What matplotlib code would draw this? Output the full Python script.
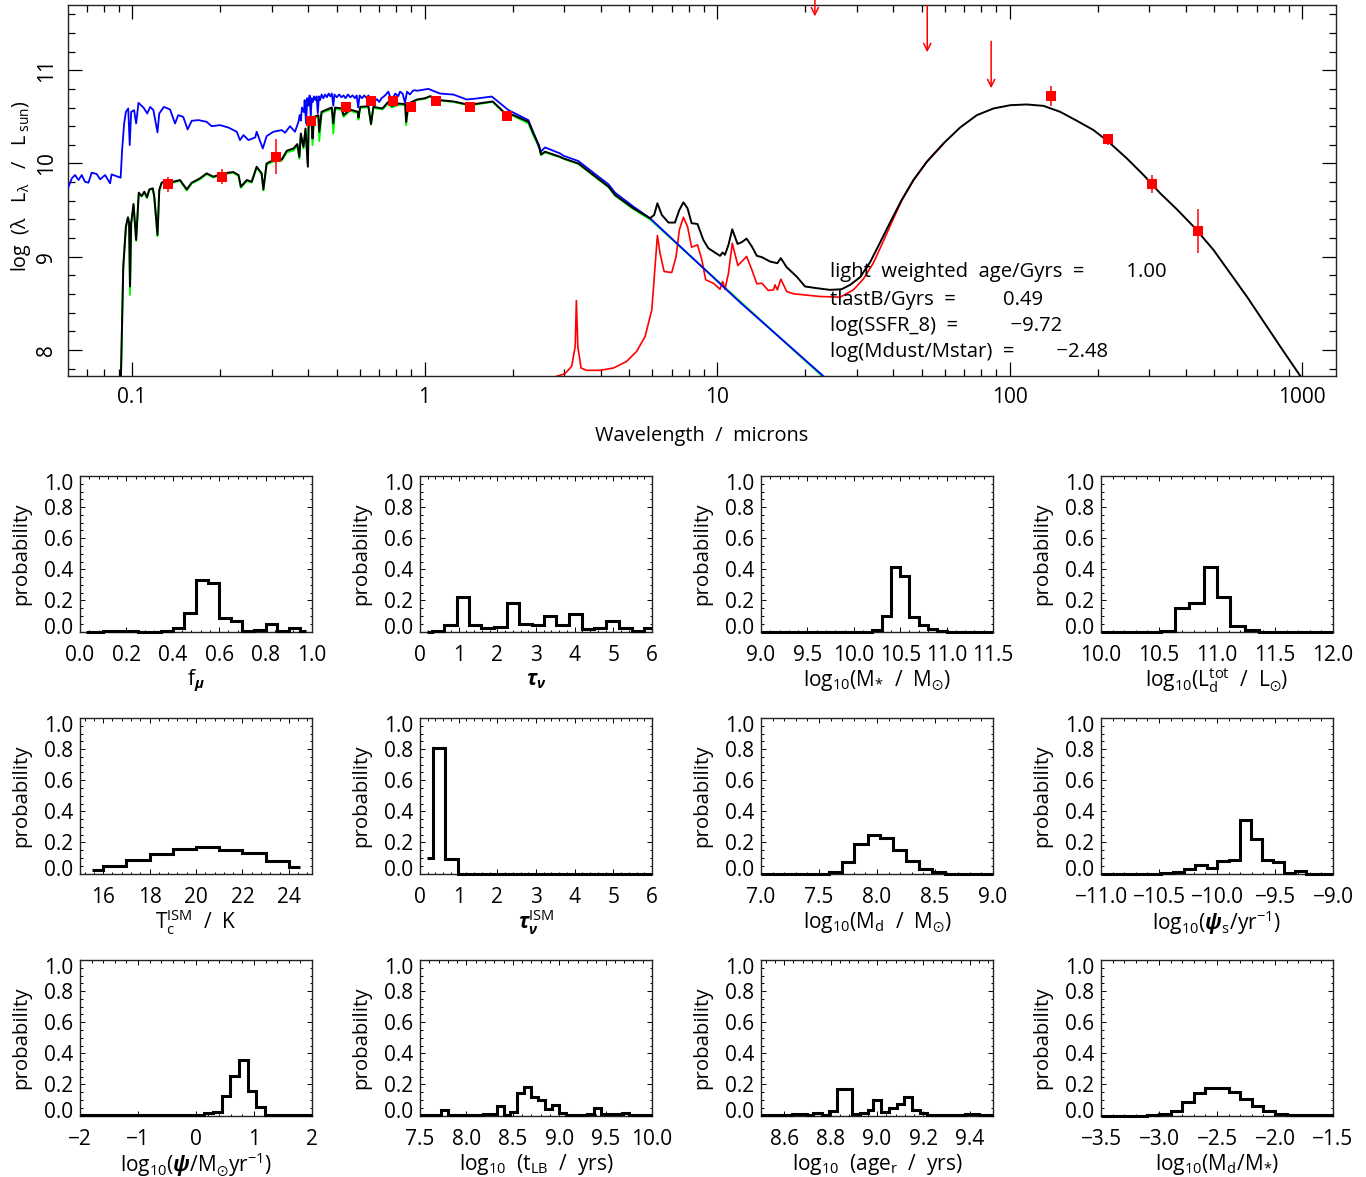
import matplotlib
matplotlib.use('Agg')
import matplotlib.pyplot as plt
import numpy as np
from matplotlib.ticker import AutoMinorLocator, FixedLocator, FixedFormatter, MultipleLocator
from matplotlib.transforms import ScaledTranslation

plt.rcParams['font.family'] = ['Open Sans', 'DejaVu Sans']
plt.rcParams['mathtext.fontset'] = 'custom'
plt.rcParams['mathtext.rm'] = 'Open Sans'
plt.rcParams['mathtext.it'] = 'Open Sans:italic'
plt.rcParams['mathtext.bf'] = 'Open Sans:bold'
plt.rcParams['mathtext.bfit'] = 'Open Sans:italic:bold'
plt.rcParams['mathtext.default'] = 'regular'

# SED curves, log10(wavelength/micron) and log(lambda L)
black_lx = [-1.038, -1.034, -1.030, -1.021, -1.014, -1.010, -1.007, -1.003, -0.995, -0.986, -0.977, -0.967, -0.958,
            -0.949, -0.941, -0.929, -0.924, -0.913, -0.907, -0.899, -0.879, -0.859, -0.836, -0.813, -0.796, -0.768,
            -0.745, -0.722, -0.688, -0.654, -0.636, -0.628, -0.608, -0.591, -0.574, -0.557, -0.551, -0.540, -0.517,
            -0.488, -0.471, -0.448, -0.435, -0.428, -0.423, -0.414, -0.407, -0.399, -0.396, -0.386, -0.383, -0.378,
            -0.363, -0.360, -0.352, -0.334, -0.317, -0.312, -0.306, -0.283, -0.277, -0.255, -0.228, -0.226, -0.220,
            -0.192, -0.183, -0.175, -0.144, -0.124, -0.112, -0.089, -0.066, -0.063, -0.055, -0.026, 0.002, 0.019,
            0.053, 0.099, 0.142, 0.167, 0.233, 0.270, 0.304, 0.355, 0.372, 0.391, 0.398, 0.412, 0.463,
            0.475, 0.526, 0.577, 0.629, 0.651, 0.714, 0.771, 0.785, 0.796, 0.811, 0.834, 0.856, 0.871, 0.885, 0.899,
            0.913, 0.933, 0.953, 0.970, 1.010, 1.019, 1.027, 1.039, 1.052, 1.070, 1.084, 1.101, 1.119, 1.136, 1.153,
            1.181, 1.206, 1.218, 1.238, 1.272, 1.301, 1.341, 1.386, 1.426, 1.455, 1.489, 1.523, 1.557, 1.592, 1.631,
            1.671, 1.717, 1.774, 1.831, 1.888, 1.945, 2.002, 2.059, 2.116, 2.173, 2.230, 2.287, 2.338, 2.401, 2.458,
            2.515, 2.572, 2.629, 2.697, 2.754, 2.811, 2.868, 2.925, 2.993]
black_y = [7.717, 8.288, 8.894, 9.323, 9.423, 9.365, 8.680, 9.358, 9.565, 9.180, 9.687, 9.651, 9.697,
           9.637, 9.722, 9.733, 9.644, 9.233, 9.715, 9.794, 9.822, 9.804, 9.822, 9.722, 9.794, 9.840,
           9.894, 9.858, 9.894, 9.908, 9.876, 9.751, 9.822, 9.804, 9.965, 9.894, 9.722, 10.0, 10.036,
           10.044, 10.136, 10.161, 10.208, 10.071, 10.322, 10.179, 10.375, 9.965, 10.465, 10.429, 10.268, 10.500,
           10.518, 10.340, 10.554, 10.579, 10.600, 10.429, 10.600, 10.590, 10.518, 10.579, 10.554, 10.493, 10.607,
           10.615, 10.422, 10.607, 10.590, 10.661, 10.615, 10.643, 10.636, 10.447, 10.643, 10.686, 10.700, 10.722,
           10.679, 10.665, 10.636, 10.636, 10.665, 10.554, 10.518, 10.447, 10.322, 10.197, 10.097, 10.126, 10.072,
           10.054, 10.0, 9.876, 9.751, 9.662, 9.519, 9.412, 9.448, 9.573, 9.448, 9.366, 9.366, 9.501, 9.583, 9.519,
           9.359, 9.351, 9.180, 9.091, 9.009, 9.045, 9.020, 9.127, 9.294, 9.137, 9.155, 9.194, 9.109, 9.009, 8.995,
           8.948, 8.930, 8.984, 8.887, 8.787, 8.680, 8.662, 8.644, 8.651, 8.698, 8.78, 8.94, 9.15, 9.37, 9.608,
           9.822, 10.019, 10.215, 10.386, 10.518, 10.590, 10.625, 10.633, 10.618, 10.554, 10.458, 10.358, 10.233,
           10.054, 9.876, 9.68, 9.508, 9.323, 9.073, 8.823, 8.573, 8.306, 8.038, 7.724]

blue_lx = [-1.218, -1.206, -1.195, -1.183, -1.172, -1.161, -1.149, -1.138, -1.121, -1.109, -1.092, -1.075, -1.070,
           -1.039, -1.034, -1.027, -1.021, -1.013, -1.008, -1.003, -0.993, -0.986, -0.978, -0.961, -0.948, -0.938,
           -0.927, -0.913, -0.907, -0.891, -0.870, -0.853, -0.842, -0.825, -0.810, -0.796, -0.773, -0.745, -0.728,
           -0.699, -0.671, -0.642, -0.631, -0.619, -0.602, -0.579, -0.574, -0.553, -0.540, -0.517, -0.488, -0.477,
           -0.460, -0.443, -0.431, -0.427, -0.423, -0.419, -0.412, -0.410, -0.405, -0.401, -0.397, -0.393, -0.389,
           -0.386, -0.382, -0.378, -0.373, -0.369, -0.365, -0.361, -0.357, -0.352, -0.346, -0.340, -0.334, -0.328,
           -0.322, -0.317, -0.312, -0.308, -0.300, -0.292, -0.284, -0.277, -0.270, -0.262, -0.254, -0.246, -0.238,
           -0.232, -0.227, -0.222, -0.214, -0.206, -0.198, -0.192, -0.184, -0.178, -0.170, -0.163, -0.155, -0.147,
           -0.135, -0.124, -0.116, -0.107, -0.100, -0.090, -0.084, -0.075, -0.067, -0.060, -0.050, -0.040, -0.032,
           -0.026, 0.013, 0.053, 0.099, 0.144, 0.178, 0.230, 0.287, 0.355, 0.378, 0.397, 0.412, 0.463,
           0.475, 0.526, 0.577, 0.629, 0.651, 0.714, 0.771, 0.868, 1.079, 1.364]
blue_y = [9.744, 9.840, 9.876, 9.822, 9.876, 9.804, 9.794, 9.901, 9.887, 9.830, 9.876, 9.787, 9.883,
          9.847, 10.144, 10.429, 10.554, 10.590, 10.197, 10.554, 10.572, 10.429, 10.650, 10.600, 10.536, 10.607,
          10.572, 10.333, 10.536, 10.607, 10.579, 10.429, 10.518, 10.500, 10.365, 10.458, 10.465, 10.447, 10.400,
          10.411, 10.386, 10.340, 10.251, 10.304, 10.251, 10.279, 10.340, 10.161, 10.293, 10.340, 10.358, 10.329,
          10.400, 10.340, 10.447, 10.52, 10.46, 10.60, 10.55, 10.68, 10.43, 10.70, 10.62, 10.73, 10.50,
          10.70, 10.66, 10.72, 10.68, 10.72, 10.54, 10.72, 10.68, 10.74, 10.70, 10.74, 10.71, 10.75,
          10.72, 10.75, 10.62, 10.74, 10.71, 10.74, 10.71, 10.73, 10.70, 10.74, 10.71, 10.73, 10.70,
          10.73, 10.60, 10.73, 10.70, 10.73, 10.70, 10.73, 10.66, 10.71, 10.67, 10.69, 10.66, 10.70,
          10.73, 10.77, 10.70, 10.71, 10.75, 10.72, 10.77, 10.75, 10.65, 10.77, 10.74, 10.78, 10.786,
          10.78, 10.800, 10.750, 10.739, 10.686, 10.697, 10.718, 10.572, 10.465, 10.286, 10.126, 10.172, 10.108,
          10.083, 10.026, 9.901, 9.776, 9.687, 9.537, 9.412, 9.127, 8.509, 7.717]

# attenuated stars share the black sampling up to the PAH region
green_lx = black_lx[:98] + [1.364]
green_y = [7.717, 8.28, 8.885, 9.315, 9.415, 9.36, 8.59, 9.35, 9.555, 9.17, 9.68, 9.645, 9.69,
           9.63, 9.715, 9.725, 9.635, 9.22, 9.705, 9.785, 9.815, 9.795, 9.815, 9.71, 9.785, 9.83,
           9.885, 9.85, 9.885, 9.9, 9.865, 9.74, 9.81, 9.795, 9.955, 9.885, 9.71, 9.99, 10.02,
           10.03, 10.12, 10.14, 10.19, 10.05, 10.30, 10.16, 10.36, 10.0, 10.45, 10.41, 10.197, 10.485,
           10.50, 10.24, 10.54, 10.565, 10.585, 10.32, 10.585, 10.575, 10.50, 10.565, 10.54, 10.47, 10.595,
           10.605, 10.42, 10.595, 10.58, 10.645, 10.60, 10.63, 10.625, 10.41, 10.63, 10.68, 10.695, 10.717,
           10.675, 10.66, 10.63, 10.63, 10.66, 10.55, 10.51, 10.43, 10.30, 10.18, 10.09, 10.12, 10.067,
           10.05, 9.995, 9.87, 9.745, 9.655, 9.51, 9.40, 7.705]

red_lx = [0.452, 0.480, 0.503, 0.515, 0.519, 0.524, 0.535, 0.554, 0.600, 0.646, 0.691, 0.725, 0.754, 0.777, 0.788,
          0.796, 0.805, 0.819, 0.845, 0.860, 0.871, 0.885, 0.899, 0.913, 0.933, 0.948, 0.961, 0.987, 1.010, 1.019,
          1.027, 1.039, 1.052, 1.071, 1.101, 1.119, 1.136, 1.153, 1.175, 1.193, 1.198, 1.206, 1.218, 1.238, 1.261,
          1.352, 1.421, 1.466, 1.500, 1.534, 1.569, 1.603, 1.631, 1.671, 1.717, 1.774]
red_y = [7.717, 7.745, 7.824, 8.038, 8.530, 8.038, 7.806, 7.781, 7.781, 7.806, 7.877, 7.984, 8.144, 8.431, 8.895,
         9.227, 9.038, 8.841, 8.830, 9.002, 9.287, 9.423, 9.323, 9.102, 9.127, 8.966, 8.752, 8.716, 8.651, 8.734,
         8.651, 8.823, 9.144, 8.905, 9.002, 8.859, 8.709, 8.716, 8.638, 8.644, 8.698, 8.644, 8.759, 8.627, 8.602,
         8.573, 8.566, 8.644, 8.76, 8.93, 9.17, 9.41, 9.60, 9.815, 10.015, 10.21]

# photometry
obs_wave = [0.1324, 0.203, 0.310, 0.408, 0.539, 0.656, 0.780, 0.897, 1.094, 1.432, 1.914, 138.7, 217, 307, 441]
obs_logl = [9.775, 9.858, 10.072, 10.458, 10.607, 10.672, 10.672, 10.607, 10.672, 10.607, 10.511,
            10.722, 10.261, 9.779, 9.276]
obs_err = [0.085, 0.08, 0.19, 0.02, 0.02, 0.02, 0.02, 0.02, 0.02, 0.02, 0.02, 0.11, 0.06, 0.10, 0.235]
limit_wave = [21.6, 52.3, 86.5]
limit_logl = [11.578, 11.193, 10.807]

info_lines = ['light  weighted  age/Gyrs  =        1.00',
              'tlastB/Gyrs  =         0.49',
              'log(SSFR_8)  =          \u22129.72',
              'log(Mdust/Mstar)  =        \u22122.48']
info_y_px = [272.5, 300.5, 325.5, 351.5]

# histograms
fmu_edges = [0.025, 0.05, 0.1, 0.15, 0.2, 0.25, 0.3, 0.35, 0.4, 0.45, 0.5, 0.55, 0.6, 0.65, 0.7, 0.75, 0.8, 0.85, 0.9,
             0.95, 0.975]
fmu_vals = [0, 0, 0.001, 0.003, 0.001, 0, 0, 0.005, 0.02, 0.12, 0.33, 0.31, 0.09, 0.065, 0.003, 0.012, 0.047, 0.003,
            0.025, 0.003]
tauv_edges = [0.17, 0.30, 0.62, 0.95, 1.27, 1.59, 1.92, 2.24, 2.56, 2.89, 3.21, 3.53, 3.85, 4.18, 4.5, 4.82, 5.15,
              5.47, 5.79, 6.0]
tauv_vals = [0, 0.003, 0.04, 0.225, 0.04, 0.025, 0.03, 0.185, 0.05, 0.045, 0.10, 0.045, 0.11, 0.015, 0.024, 0.065,
             0.024, 0.004, 0.02]
mstar_edges = [9.0, 10.2, 10.3, 10.4, 10.5, 10.6, 10.7, 10.8, 10.9, 11.0, 11.5]
mstar_vals = [0, 0.008, 0.10, 0.415, 0.36, 0.095, 0.045, 0.013, 0.004, 0]
ldust_edges = [10.0, 10.52, 10.64, 10.76, 10.885, 11.0, 11.115, 11.24, 11.36, 12.0]
ldust_vals = [0, 0.006, 0.15, 0.185, 0.415, 0.225, 0.036, 0.008, 0]
tc_edges = [15.5, 16, 17, 18, 19, 20, 21, 22, 23, 24, 24.5]
tc_vals = [0.024, 0.05, 0.088, 0.124, 0.156, 0.173, 0.154, 0.13, 0.08, 0.04]
tauism_edges = [0.17, 0.34, 0.64, 0.97, 6.0]
tauism_vals = [0.10, 0.81, 0.094, 0]
mdust_edges = [7.0, 7.59, 7.70, 7.80, 7.92, 8.03, 8.14, 8.25, 8.36, 8.47, 8.59, 9.0]
mdust_vals = [0, 0.009, 0.073, 0.19, 0.25, 0.227, 0.15, 0.08, 0.032, 0.009, 0]
ssfr_edges = [-11, -10.48, -10.38, -10.285, -10.19, -10.09, -10.0, -9.9, -9.8, -9.71, -9.61, -9.52, -9.42, -9.33,
              -9.23, -9.0]
ssfr_vals = [0, 0.006, 0.01, 0.026, 0.054, 0.034, 0.08, 0.088, 0.343, 0.225, 0.084, 0.073, 0.004, 0.013, 0]
sfr_edges = [-2, 0.14, 0.29, 0.44, 0.59, 0.74, 0.89, 1.04, 1.19, 2]
sfr_vals = [0.002, 0.017, 0.02, 0.125, 0.254, 0.355, 0.157, 0.054, 0.002]
tlb_edges = [7.5, 7.725, 7.8, 7.875, 7.95, 8.025, 8.1, 8.175, 8.25, 8.325, 8.4, 8.475, 8.55, 8.625, 8.7, 8.775, 8.85,
             8.925, 9.0, 9.075, 9.15, 9.225, 9.3, 9.375, 9.45, 9.525, 9.6, 9.675, 9.75, 9.825, 10.0]
tlb_vals = [0.002, 0.037, 0.003, 0.003, 0.005, 0.006, 0.004, 0.010, 0.008, 0.06, 0.006, 0.02, 0.142, 0.185, 0.12, 0.1,
            0.045, 0.07, 0.017, 0.005, 0.004, 0.004, 0.012, 0.05, 0.008, 0.01, 0.01, 0.017, 0.004, 0.002]
age_edges = [8.5, 8.633, 8.70, 8.725, 8.765, 8.794, 8.828, 8.894, 8.928, 8.96, 8.983, 9.017, 9.051, 9.085, 9.116, 9.15,
             9.184, 9.216, 9.3, 9.38, 9.44, 9.5]
age_vals = [0.002, 0.008, 0.002, 0.015, 0.001, 0.028, 0.172, 0.01, 0.018, 0.035, 0.1, 0.02, 0.05, 0.077, 0.12, 0.035,
            0.018, 0.006, 0.004, 0.008, 0.001]
ratio_edges = [-3.5, -3.1, -3.0, -2.9, -2.8, -2.7, -2.6, -2.5, -2.4, -2.3, -2.2, -2.1, -2.0, -1.9, -1.5]
ratio_vals = [0, 0.002, 0.01, 0.032, 0.088, 0.142, 0.176, 0.176, 0.148, 0.105, 0.062, 0.028, 0.01, 0.002]

panel_edges = [fmu_edges, tauv_edges, mstar_edges, ldust_edges, tc_edges, tauism_edges, mdust_edges, ssfr_edges,
               sfr_edges, tlb_edges, age_edges, ratio_edges]
panel_vals = [fmu_vals, tauv_vals, mstar_vals, ldust_vals, tc_vals, tauism_vals, mdust_vals, ssfr_vals,
              sfr_vals, tlb_vals, age_vals, ratio_vals]
panel_xlim = [(0, 1), (0, 6), (9, 11.5), (10, 12), (15, 25), (0, 6), (7, 9), (-11, -9), (-2, 2), (7.5, 10),
              (8.5, 9.5), (-3.5, -1.5)]
panel_ticks = [[0, 0.2, 0.4, 0.6, 0.8, 1.0], [0, 1, 2, 3, 4, 5, 6], [9, 9.5, 10, 10.5, 11, 11.5],
               [10, 10.5, 11, 11.5, 12], [16, 18, 20, 22, 24], [0, 1, 2, 3, 4, 5, 6], [7, 7.5, 8, 8.5, 9],
               [-11, -10.5, -10, -9.5, -9], [-2, -1, 0, 1, 2], [7.5, 8, 8.5, 9, 9.5, 10],
               [8.6, 8.8, 9.0, 9.2, 9.4], [-3.5, -3, -2.5, -2, -1.5]]
panel_fmt = ['%.1f', '%d', '%.1f', '%.1f', '%d', '%d', '%.1f', '%.1f', '%d', '%.1f', '%.1f', '%.1f']
panel_labels = [r'f$_{\boldsymbol{\mu}}$',
                r'$\boldsymbol{\tau}_{\boldsymbol{\nu}}$',
                r'log$_{10}$(M$_{*}$  /  M$_{\odot}$)',
                r'log$_{10}$(L$_{d}^{tot}$  /  L$_{\odot}$)',
                r'T$_{c}^{ISM}$  /  K',
                r'$\boldsymbol{\tau}_{\boldsymbol{\nu}}^{ISM}$',
                r'log$_{10}$(M$_{d}$  /  M$_{\odot}$)',
                r'log$_{10}$($\boldsymbol{\psi}_{s}$/yr$^{-1}$)',
                r'log$_{10}$($\boldsymbol{\psi}$/M$_{\odot}$yr$^{-1}$)',
                r'log$_{10}$  (t$_{LB}$  /  yrs)',
                r'log$_{10}$  (age$_{r}$  /  yrs)',
                r'log$_{10}$(M$_{d}$/M$_{*}$)']
prob_ticks = [0, 0.2, 0.4, 0.6, 0.8, 1.0]

W, H = 1366, 1177
col_left = [80, 420, 761, 1101]
col_width = 232
row_top = [476, 718, 960]
row_height = 155.5
FS = 15


def px_axes(left, top, width, height):
    return fig.add_axes([left / W, 1 - (top + height) / H, width / W, height / H])


fig = plt.figure(figsize=(W / 100, H / 100), dpi=100)

# top SED panel
ax = px_axes(68, 5, 1268, 371)
ax.plot(10 ** np.array(green_lx), green_y, color='#00ff00', lw=1.4, zorder=2)
ax.plot(10 ** np.array(red_lx), red_y, color='red', lw=1.2, zorder=2)
ax.plot(10 ** np.array(blue_lx), blue_y, color='#0000ff', lw=1.3, zorder=3)
ax.plot(10 ** np.array(black_lx), black_y, color='black', lw=1.4, zorder=4)
ax.errorbar(obs_wave, obs_logl, yerr=obs_err, fmt='s', color='red', ms=7.6, mew=0, elinewidth=1.1, capsize=0, zorder=5)
for w, l in zip(limit_wave, limit_logl):
    ax.annotate('', xy=(w, l), xytext=(w, l + 0.503), annotation_clip=False,
                arrowprops=dict(arrowstyle='->', color='red', lw=1.1, mutation_scale=13,
                                shrinkA=0, shrinkB=0), zorder=6)
ax.set_xscale('log')
ax.set_xlim(0.0604, 1306)
ax.set_ylim(7.72, 11.70)
ax.xaxis.set_major_locator(FixedLocator([0.1, 1, 10, 100, 1000]))
ax.xaxis.set_major_formatter(FixedFormatter(['0.1', '1', '10', '100', '1000']))
ax.yaxis.set_major_locator(FixedLocator([8, 9, 10, 11]))
ax.yaxis.set_minor_locator(MultipleLocator(0.2))
ax.tick_params(which='major', direction='in', top=True, right=True, length=10, width=0.9, labelsize=FS)
ax.tick_params(which='minor', direction='in', top=True, right=True, length=5, width=0.9)
ax.tick_params(axis='x', which='major', pad=8)
ax.tick_params(axis='y', which='major', pad=8)
for t in ax.get_yticklabels():
    t.set_rotation(90)
    t.set_va('center')
ax.set_xlabel('Wavelength  /  microns', fontsize=14.4)
ax.xaxis.set_label_coords((702 - 68) / 1268, -(436 - 376) / 371)
ax.xaxis.label.set_va('center')
ax.set_ylabel(r'log  ($\lambda$   L$_{\lambda}$   /   L$_{\ sun}$)', fontsize=14.2)
ax.yaxis.set_label_coords((21 - 68) / 1268, 0.512)
ax.yaxis.label.set_va('center')
for line, y_px in zip(info_lines, info_y_px):
    fig.text(830 / W, 1 - y_px / H, line, fontsize=14.6, va='center', ha='left', zorder=10)
for s in ax.spines.values():
    s.set_linewidth(1.0)
    s.set_color('#222222')

# histogram panels
for i in range(12):
    a = px_axes(col_left[i % 4], row_top[i // 4], col_width, row_height)
    a.stairs(panel_vals[i], panel_edges[i], baseline=None, color='black', lw=2.2, clip_on=False, zorder=5)
    a.set_xlim(panel_xlim[i])
    a.set_ylim(0, 1)
    a.set_xticks(panel_ticks[i])
    a.set_xticklabels([(panel_fmt[i] % v).replace('-', '\u2212') for v in panel_ticks[i]])
    a.xaxis.set_minor_locator(AutoMinorLocator(5))
    a.set_yticks(prob_ticks)
    a.set_yticklabels(['%.1f' % v for v in prob_ticks])
    a.yaxis.set_minor_locator(MultipleLocator(0.05))
    a.tick_params(which='major', direction='in', top=True, right=True, length=3.5, width=0.7, labelsize=FS)
    a.tick_params(which='minor', direction='in', top=True, right=True, length=1.8, width=0.7)
    a.tick_params(axis='x', which='major', pad=10)
    a.tick_params(axis='y', which='major', pad=5)
    # end labels sit inside the axis range
    ylabs = a.get_yticklabels()
    ylabs[0].set_transform(ylabs[0].get_transform() + ScaledTranslation(0, 6 / 100, fig.dpi_scale_trans))
    ylabs[-1].set_transform(ylabs[-1].get_transform() + ScaledTranslation(0, -6.5 / 100, fig.dpi_scale_trans))
    a.set_xlabel(panel_labels[i], fontsize=FS)
    a.xaxis.set_label_coords(0.5, -0.315)
    a.xaxis.label.set_va('center')
    a.set_ylabel('probability', fontsize=14.7)
    a.yaxis.set_label_coords(-0.254, 0.5)
    a.yaxis.label.set_va('center')
    for s in a.spines.values():
        s.set_linewidth(1.0)
        s.set_color('#222222')

fig.savefig('out.png', dpi=100)
